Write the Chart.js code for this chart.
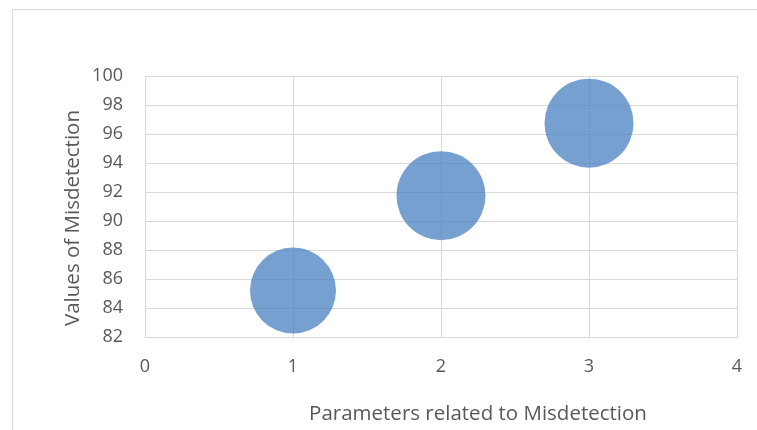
<!DOCTYPE html>
<html>
<head>
<meta charset="utf-8">
<script src="https://cdn.jsdelivr.net/npm/chart.js@4/dist/chart.umd.min.js"></script>
<style>
  html, body { margin: 0; padding: 0; background: #fff; }
  #wrap { width: 757px; height: 430px; }
</style>
</head>
<body>
<div id="wrap"><canvas id="bubbles" width="757" height="430"></canvas></div>
<script>
(function () {
    const xValues = [1, 2, 3];
    const yValues = [85.2, 91.75, 96.75];
    const sizes = [43, 44.5, 44.5];
    const xTitle = "Parameters related to Misdetection";
    const yTitle = "Values of Misdetection";

    const grey = '#595959';
    const gridColor = '#d9d9d9';
    const fontFamily = "'Open Sans', 'Liberation Sans', sans-serif";

    // outer frame and axis titles, placed like the original
    const decor = {
        id: 'decor',
        afterDraw(chart) {
            const ctx = chart.ctx;
            ctx.save();
            ctx.strokeStyle = gridColor;
            ctx.lineWidth = 1;
            ctx.strokeRect(12.5, 9.5, 800, 500);
            ctx.fillStyle = grey;
            ctx.font = '20.5px ' + fontFamily;
            ctx.textAlign = 'center';
            ctx.textBaseline = 'middle';
            ctx.fillText(xTitle, 478, 414);
            ctx.translate(73, 218);
            ctx.rotate(-Math.PI / 2);
            ctx.fillText(yTitle, 0, 0);
            ctx.restore();
        }
    };

    new Chart(
        document.getElementById("bubbles"),
        {
            type: 'bubble',
            data: {
                datasets: [{
                    label: 'Misdetection',
                    data: xValues.map((x, i) => ({ x: x, y: yValues[i], r: sizes[i] })),
                    backgroundColor: 'rgba(71,128,191,0.75)',
                    borderWidth: 0
                }]
            },
            options: {
                responsive: false,
                animation: false,
                layout: {
                    autoPadding: false,
                    padding: { left: 0, right: 20, top: 76, bottom: 43 }
                },
                plugins: {
                    legend: { display: false },
                    tooltip: { enabled: false }
                },
                scales: {
                    x: {
                        type: 'linear',
                        min: 0,
                        max: 4,
                        ticks: {
                            stepSize: 1,
                            color: grey,
                            padding: 19,
                            font: { family: fontFamily, size: 18 }
                        },
                        grid: { color: gridColor, drawTicks: false },
                        border: { color: gridColor },
                        afterFit(axis) {
                            axis.height = 50;
                            axis.paddingLeft = 0;
                            axis.paddingRight = 0;
                        }
                    },
                    y: {
                        min: 82,
                        max: 100,
                        ticks: {
                            stepSize: 2,
                            color: grey,
                            padding: 22,
                            font: { family: fontFamily, size: 18 }
                        },
                        grid: { color: gridColor, drawTicks: false },
                        border: { color: gridColor },
                        afterFit(axis) {
                            axis.width = 145;
                            axis.paddingTop = 0;
                            axis.paddingBottom = 0;
                        }
                    }
                }
            },
            plugins: [decor]
        }
    );
})();
</script>
</body>
</html>
